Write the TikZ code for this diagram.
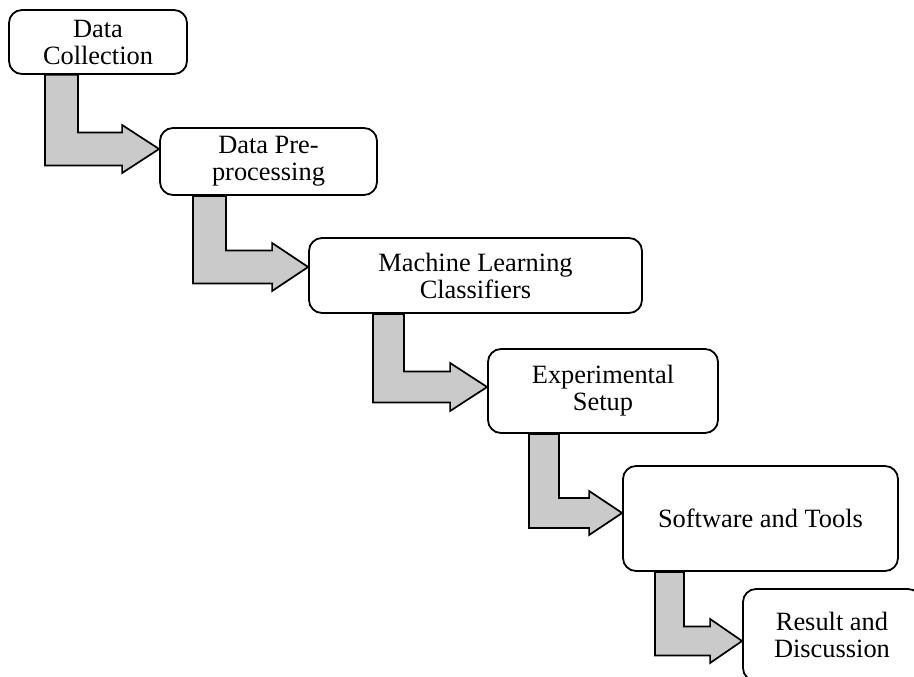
\documentclass[tikz,border=0pt]{standalone}
\usepackage{fontspec}
\setmainfont{Liberation Serif}
\usetikzlibrary{calc}
\definecolor{arrowgray}{RGB}{202,202,202}
\tikzset{
  stepbox/.style={draw=black, line width=1.8pt, rounded corners=13pt, fill=white,
    align=center, inner sep=0pt, font=\fontsize{26.4pt}{27pt}\selectfont},
  bentarrow/.style={draw=black, fill=arrowgray, line width=1.7pt, line join=miter}
}
% #1 from node, #2 to node, #3 stem left x, #4 shaft centre y, #5 shaft width, #6 head half height, #7 head length
\newcommand\bentarrow[7]{%
  \path[bentarrow] let \p1=(#1.south), \p2=(#2.west) in
    (#3pt,\y1) -- (#3pt+#5pt,\y1) -- (#3pt+#5pt,#4pt+#5pt/2)
    -- (\x2-#7pt,#4pt+#5pt/2) -- (\x2-#7pt,#4pt+#6pt) -- (\x2,#4pt)
    -- (\x2-#7pt,#4pt-#6pt) -- (\x2-#7pt,#4pt-#5pt/2) -- (#3pt,#4pt-#5pt/2) -- cycle;}
\begin{document}
\begin{tikzpicture}[x=1pt,y=1pt]
\useasboundingbox (0,0) rectangle (914,-677);
\clip (0,0) rectangle (914,-677);
\node[stepbox, minimum width=178pt, minimum height=64pt] (n1) at (98,-42) {Data\\Collection};
\node[stepbox, minimum width=217pt, minimum height=67pt] (n2) at (268.5,-161.5) {Data Pre-\\processing};
\node[stepbox, minimum width=333pt, minimum height=75pt] (n3) at (475.5,-275.5) {Machine Learning\\Classifiers};
\node[stepbox, minimum width=230pt, minimum height=84pt] (n4) at (603,-391) {Experimental\\Setup};
\node[stepbox, minimum width=275pt, minimum height=105pt] (n5) at (760.5,-518.5) {Software and Tools};
\node[stepbox, minimum width=178pt, minimum height=92pt] (n6) at (832,-635) {Result and\\Discussion};
\bentarrow{n1}{n2}{45}{-149}{33}{24}{37}
\bentarrow{n2}{n3}{193}{-267}{33}{24}{36}
\bentarrow{n3}{n4}{373}{-387}{31}{24}{37}
\bentarrow{n4}{n5}{529}{-513}{30}{22}{33}
\bentarrow{n5}{n6}{655}{-641}{29}{22}{32}
\end{tikzpicture}
\end{document}
